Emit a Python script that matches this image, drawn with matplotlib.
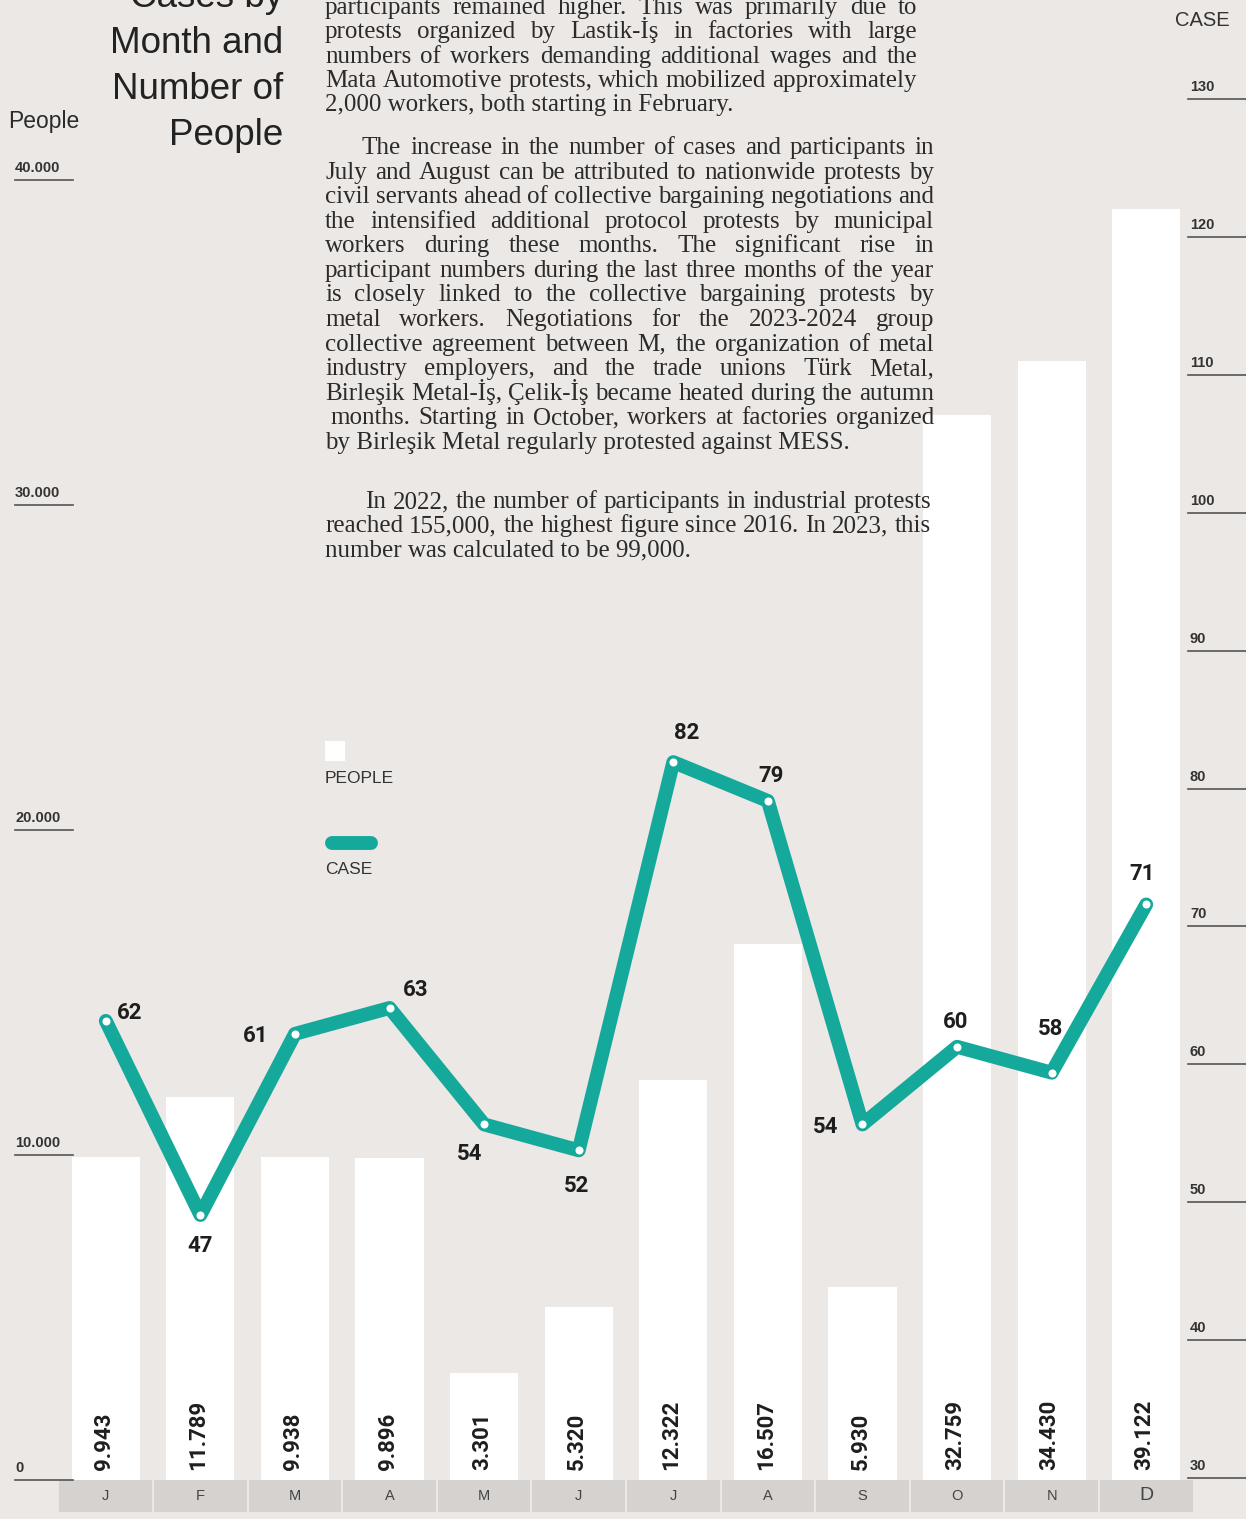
import matplotlib
matplotlib.use("Agg")
import matplotlib.pyplot as plt
from matplotlib import font_manager
from matplotlib.font_manager import FontProperties
from matplotlib.transforms import blended_transform_factory
from matplotlib.patches import Rectangle

# data
months = ["J", "F", "M", "A", "M", "J", "J", "A", "S", "O", "N", "D"]
people = [9943, 11789, 9938, 9896, 3301, 5320, 12322, 16507, 5930, 32759, 34430, 39122]
cases = [62, 47, 61, 63, 54, 52, 82, 79, 54, 60, 58, 71]
people_ticks = [0, 10000, 20000, 30000, 40000]
case_ticks = [30, 40, 50, 60, 70, 80, 90, 100, 110, 120, 130]

para1 = [
    "participants remained higher. This was primarily due to",
    "protests organized by Lastik-İş in factories with large",
    "numbers of workers demanding additional wages and the",
    "Mata Automotive protests, which mobilized approximately",
    "2,000 workers, both starting in February.",
]
para2 = [
    "The increase in the number of cases and participants in",
    "July and August can be attributed to nationwide protests by",
    "civil servants ahead of collective bargaining negotiations and",
    "the intensified additional protocol protests by municipal",
    "workers during these months. The significant rise in",
    "participant numbers during the last three months of the year",
    "is closely linked to the collective bargaining protests by",
    "metal workers. Negotiations for the 2023-2024 group",
    "collective agreement between M, the organization of metal",
    "industry employers, and the trade unions Türk Metal,",
    "Birleşik Metal-İş, Çelik-İş became heated during the autumn",
    "months. Starting in October, workers at factories organized",
    "by Birleşik Metal regularly protested against MESS.",
]
para3 = [
    "In 2022, the number of participants in industrial protests",
    "reached 155,000, the highest figure since 2016. In 2023, this",
    "number was calculated to be 99,000.",
]

BG = "#ECE8E5"
TEAL = "#15A99B"
DARK = "#2B2B2B"
W, H = 1246, 1519


def fmt(v):
    return f"{v:,}".replace(",", ".")


fonts = font_manager.fontManager.ttflist
names = {f.name for f in fonts}


def pick(*cands):
    for c in cands:
        if c in names:
            return c
    return "DejaVu Sans"


has_roboto_bold = any(f.name == "Roboto" and f.weight in (700, "bold") for f in fonts)
NUM = "Roboto" if has_roboto_bold else pick("Liberation Sans")
SANS = pick("Liberation Sans", "Arial")
SERIF = pick("Liberation Serif", "DejaVu Serif")

fig = plt.figure(figsize=(W / 100, H / 100), dpi=100, facecolor=BG)

# axes: x from 58.5 to 1193.5 px, y from 1480 px (bottom) to top
ax = fig.add_axes([58.5 / W, (H - 1480) / H, 1135 / W, 1480 / H])
ax.set_facecolor("none")
x = list(range(len(months)))
ax.bar(x, people, width=0.72, color="white", zorder=1)
ax.set_xlim(-0.5, 11.5)
ax.set_ylim(0, 40000 * 1480 / (1480 - 180))

ax_r = ax.twinx()
ax_r.set_ylim(29.855, 137.18)

ax_c = ax.twinx()
ax_c.set_ylim(26.52, 140.9)
ax_c.plot(x, cases, color=TEAL, lw=10, solid_capstyle="round",
          solid_joinstyle="round", marker="o", markersize=7,
          markerfacecolor="white", markeredgecolor=TEAL, markeredgewidth=1.2, zorder=3)

case_offsets = [(24, 8), (0, -31), (-39, -2), (26, 18), (-15, -30), (-2, -36),
                (13, 29), (3, 25), (-37, -3), (-1, 25), (-1, 44), (-4, 30)]
for i, (v, off) in enumerate(zip(cases, case_offsets)):
    ax_c.annotate(str(v), (i, v), xytext=off, textcoords="offset pixels",
                  ha="center", va="center", fontsize=16, fontweight="bold",
                  family=NUM, color="#1E1E1E", zorder=4)

for i, v in enumerate(people):
    ax.annotate(fmt(v), (i, 0), xytext=(-2, 10), textcoords="offset pixels",
                rotation=90, ha="center", va="bottom", fontsize=16,
                fontweight="bold", family=NUM, color="#1E1E1E", zorder=2)

for a in (ax, ax_r, ax_c):
    a.set_xticks([])
    a.set_yticks([])
    for s in a.spines.values():
        s.set_visible(False)

# month cells
cell = blended_transform_factory(ax.transData, ax.transAxes)
cell_h = 32 / 1480
for i, m in enumerate(months):
    ax.add_patch(Rectangle((i - 0.49, -cell_h), 0.98, cell_h, transform=cell,
                           facecolor="#D5D2D0", edgecolor="none", clip_on=False))
    ax.text(i, -cell_h / 2, m, transform=cell, ha="center", va="center",
            fontsize=14 if m == "D" else 10.5, family=SANS, color="#444444")

# left tick labels
lt = blended_transform_factory(fig.transFigure, ax.transData)
for v in people_ticks:
    ax.plot([15 / W, 73 / W], [v, v], transform=lt, color="#555555", lw=1.2, clip_on=False)
    ax.annotate(fmt(v), (15 / W, v), xycoords=lt, xytext=(0, 5), textcoords="offset pixels",
                ha="left", va="bottom", fontsize=10.5, fontweight="bold", family=SANS,
                color="#333333", annotation_clip=False)

# right tick labels
rt = blended_transform_factory(fig.transFigure, ax_r.transData)
for v in case_ticks:
    ax_r.plot([1188 / W, 1.0], [v, v], transform=rt, color="#555555", lw=1.2, clip_on=False)
    ax_r.annotate(str(v), (1190 / W, v), xycoords=rt, xytext=(0, 5), textcoords="offset pixels",
                  ha="left", va="bottom", fontsize=10.5, fontweight="bold", family=SANS,
                  color="#333333", annotation_clip=False)


def fx(px):
    return px / W


def fy(py):
    return 1 - py / H


# titles and axis names
for txt, base in zip(["Cases by", "Month and", "Number of", "People"], [7, 53, 99, 145]):
    fig.text(fx(283), fy(base), txt, ha="right", va="baseline", fontsize=26.5,
             family=SANS, color="#222222")
fig.text(fx(8), fy(128), "People", ha="left", va="baseline", fontsize=16.5, family=SANS, color=DARK)
fig.text(fx(1175), fy(26), "CASE", ha="left", va="baseline", fontsize=14.5, family=SANS, color="#333333")

# legend
fig.patches.append(Rectangle((fx(325), fy(761)), 20 / W, 20 / H, transform=fig.transFigure,
                             facecolor="white", edgecolor="none"))
fig.text(fx(325), fy(783), "PEOPLE", ha="left", va="baseline", fontsize=12.5, family=SANS, color="#333333")
fig.lines.append(plt.Line2D([fx(332), fx(371)], [fy(843), fy(843)], transform=fig.transFigure,
                            color=TEAL, lw=10, solid_capstyle="round"))
fig.text(fx(325), fy(874), "CASE", ha="left", va="baseline", fontsize=12.5, family=SANS, color="#333333")

# justified body text
fp = FontProperties(family=SERIF, size=18)
renderer = fig.canvas.get_renderer()


def width(s):
    return renderer.get_text_width_height_descent(s, fp, ismath=False)[0]


def paragraph(lines, first_base, step, x_left, x_right, indent, starts=None):
    for k, line in enumerate(lines):
        base = first_base + k * step
        x0 = x_left + (indent if k == 0 else 0)
        if starts and k in starts:
            x0 = starts[k]
        words = line.split()
        if k == len(lines) - 1 or len(words) < 2:
            fig.text(fx(x0), fy(base), line, fontproperties=fp, va="baseline", color=DARK)
            continue
        ws = [width(w) for w in words]
        gap = max((x_right - x0 - sum(ws)) / (len(words) - 1), 3)
        xx = x0
        for w, wd in zip(words, ws):
            fig.text(fx(xx), fy(base), w, fontproperties=fp, va="baseline", color=DARK)
            xx += wd + gap


paragraph(para1, 14, 24.3, 325, 917, 0)
paragraph(para2, 154, 24.58, 325, 934, 37, starts={11: 330})
paragraph(para3, 508, 24.0, 325, 931, 40)

fig.savefig("out.png", dpi=100, facecolor=BG)
